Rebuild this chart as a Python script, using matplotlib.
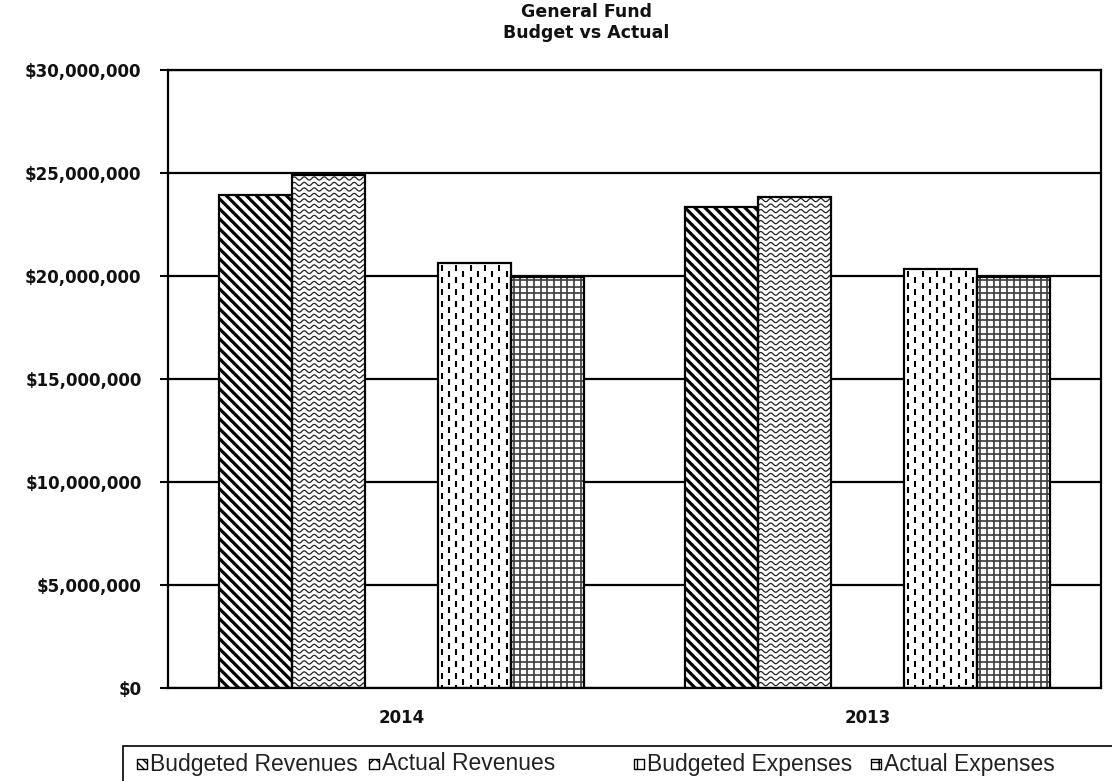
import numpy as np
import matplotlib
matplotlib.use("Agg")
import matplotlib.pyplot as plt
from matplotlib.collections import LineCollection
from matplotlib.patches import Rectangle
from matplotlib.transforms import IdentityTransform
from matplotlib.ticker import FuncFormatter

# ---- data -------------------------------------------------------------
years = ["2014", "2013"]
series_names = ["Budgeted Revenues", "Actual Revenues", "Budgeted Expenses", "Actual Expenses"]
budgeted_revenues = [23.93e6, 23.35e6]
actual_revenues = [24.88e6, 23.83e6]
budgeted_expenses = [20.63e6, 20.34e6]
actual_expenses = [19.95e6, 19.95e6]
y_ticks = [0, 5e6, 10e6, 15e6, 20e6, 25e6, 30e6]

# ---- figure / axes ------------------------------------------------------
W, H, DPI = 1112, 781, 100
fig = plt.figure(figsize=(W / DPI, H / DPI), dpi=DPI)
L, R, T, B = 168, 1101, 70, 688
ax = fig.add_axes([L / W, 1 - B / H, (R - L) / W, (B - T) / H])

ax.set_xlim(-0.5, 1.5)
ax.set_ylim(0, 30e6)
ax.set_yticks(y_ticks)
ax.yaxis.set_major_formatter(FuncFormatter(lambda v, p: "${:,.0f}".format(v)))
ax.set_xticks(range(len(years)))
ax.set_xticklabels(years)
ax.set_axisbelow(True)
ax.grid(axis="y", color="black", linewidth=1.6)
for s in ax.spines.values():
    s.set_linewidth(1.6)
    s.set_color("black")
ax.tick_params(axis="y", length=6, width=1.5, pad=13, labelsize=12)
ax.tick_params(axis="x", length=0, pad=15, labelsize=12)
for lab in ax.get_yticklabels() + ax.get_xticklabels():
    lab.set_fontweight("bold")
    lab.set_color("#111111")

# five slots per year, the middle one left empty
slot = 73 / ((R - L) / 2)
x = np.arange(len(years))
slots = [0, 1, 3, 4]
values = [budgeted_revenues, actual_revenues, budgeted_expenses, actual_expenses]
textures = ["diag", "wave", "dash", "grid"]


def add_texture(axes, patch, kind):
    bb = patch.get_window_extent()
    x0, y0, x1, y1 = bb.x0, bb.y0, bb.x1, bb.y1
    segs = []
    lw, col = 1.0, "black"
    if kind == "diag":
        p = 10.0
        for c in np.arange(x0 + y0 - 2 * p, x1 + y1 + 2 * p, p):
            segs.append([(x0 - 20, c - (x0 - 20)), (x1 + 20, c - (x1 + 20))])
        lw = 2.3
    elif kind == "wave":
        xs = np.arange(x0 - 2, x1 + 2, 0.5)
        for yk in np.arange(y1 - 3, y0 - 6, -5.5):
            segs.append(np.column_stack([xs, yk + 1.6 * np.sin(2 * np.pi * (xs - x0) / 10.0)]))
        lw, col = 0.9, "#222222"
    elif kind == "dash":
        j = 0
        for xc in np.arange(x0 + 4, x1, 7.2):
            off = 0 if j % 2 == 0 else 6
            for ys in np.arange(y1 - 2 - off, y0 - 12, -12):
                segs.append([(xc, ys), (xc, ys - 6)])
            j += 1
        lw = 1.5
    elif kind == "grid":
        for xc in np.arange(x0 + 3, x1, 6.7):
            segs.append([(xc, y0), (xc, y1)])
        for yc in np.arange(y1 - 3, y0, -6.7):
            segs.append([(x0, yc), (x1, yc)])
        lw, col = 1.2, "#3a3a3a"
    lc = LineCollection(segs, colors=col, linewidths=lw, transform=IdentityTransform(), zorder=3)
    axes.add_collection(lc, autolim=False)
    lc.set_clip_path(patch)


for vals, sl, kind in zip(values, slots, textures):
    pos = x + (sl - 2) * slot
    bars = ax.bar(pos, vals, width=slot, color="white", edgecolor="none", zorder=2)
    for b in bars:
        add_texture(ax, b, kind)
    ax.bar(pos, vals, width=slot, fill=False, edgecolor="black", linewidth=1.6, zorder=4)

# ---- title ----------------------------------------------------------------
fig.text(586 / W, 1 - 3 / H, "General Fund\nBudget vs Actual", ha="center", va="top",
         fontsize=12.5, fontweight="bold", color="#111111", linespacing=1.2)

# ---- legend box -------------------------------------------------------------
fig.patches.append(Rectangle((123 / W, 1 - 800 / H), 1100 / W, 54 / H, transform=fig.transFigure,
                             fill=False, edgecolor="black", linewidth=1.2))
icon_x = [137, 369, 634, 871]
icon_hatch = ["\\\\\\\\", "xx", "||", "++"]
yc = 1 - 764 / H
for ix, name, hh in zip(icon_x, series_names, icon_hatch):
    fig.patches.append(Rectangle((ix / W, yc - 5 / H), 10 / W, 10 / H, transform=fig.transFigure,
                                 facecolor="white", edgecolor="black", linewidth=1.0, hatch=hh))
    fig.text((ix + 13) / W, yc, name, ha="left", va="center", fontsize=16.5, color="#222222",
             family=["Liberation Sans", "DejaVu Sans"])

fig.savefig("out.png", dpi=DPI)
